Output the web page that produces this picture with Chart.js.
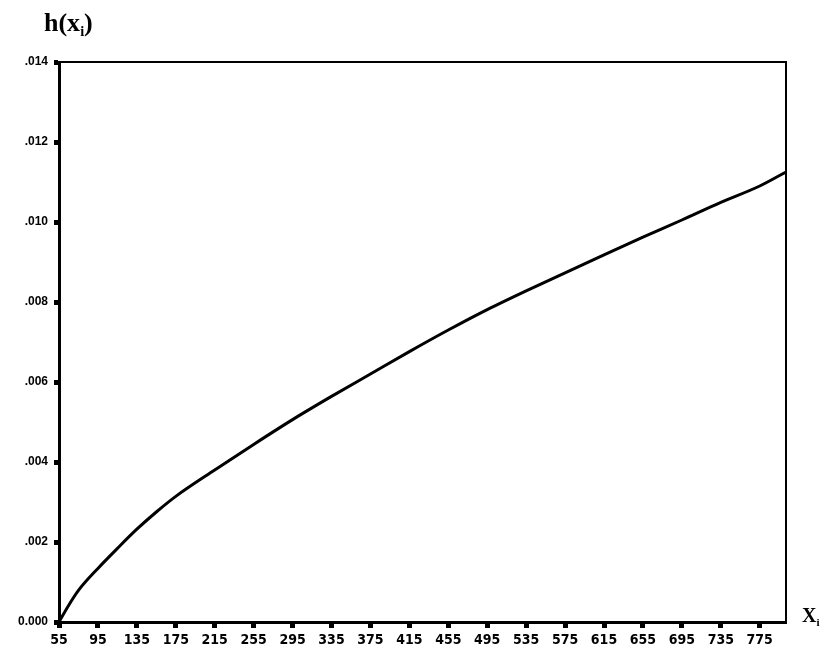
<!DOCTYPE html>
<html>
<head>
<meta charset="utf-8">
<script src="https://cdn.jsdelivr.net/npm/chart.js@4.4.1/dist/chart.umd.min.js"></script>
<style>
  html, body { margin: 0; padding: 0; background: #fff; }
  #wrap { position: relative; width: 822px; height: 655px; }
  canvas { position: absolute; left: 0; top: 0; }
  .lbl { position: absolute; font-family: "Liberation Serif", "DejaVu Serif", serif; font-weight: bold; color: #000; line-height: 1; }
  .lbl sub { font-size: 55%; vertical-align: -0.35em; }
</style>
</head>
<body>
<div id="wrap">
  <canvas id="c" width="822" height="655"></canvas>
  <div class="lbl" style="left:44px; top:10px; font-size:26px;">h(x<sub>i</sub>)</div>
  <div class="lbl" style="left:802px; top:605px; font-size:20px;">X<sub>i</sub></div>
</div>
<script>
// ---- data ----
const xValues = [55, 65, 75, 95, 115, 135, 155, 175, 215, 255, 295, 335, 375, 415, 455, 495, 535, 575, 615, 655, 695, 735, 775, 802];
const hValues = [0, 0.00042, 0.00079, 0.00134, 0.00184, 0.00232, 0.00275, 0.00314, 0.00380, 0.00444, 0.00506, 0.00564, 0.00620, 0.00676, 0.00730, 0.00781, 0.00828, 0.00873, 0.00918, 0.00962, 0.01005, 0.01049, 0.01090, 0.01125];
const xTicks = [55, 95, 135, 175, 215, 255, 295, 335, 375, 415, 455, 495, 535, 575, 615, 655, 695, 735, 775];
const yTicks = [0, 0.002, 0.004, 0.006, 0.008, 0.010, 0.012, 0.014];
const yTickLabels = ["0.000", ".002", ".004", ".006", ".008", ".010", ".012", ".014"];

const points = xValues.map((x, i) => ({ x: x, y: hValues[i] }));

const framePlugin = {
  id: 'frame',
  afterDraw(chart) {
    const { ctx, chartArea: a } = chart;
    ctx.save();
    ctx.strokeStyle = '#000';
    ctx.lineWidth = 2;
    ctx.beginPath();
    ctx.moveTo(a.left, a.top);
    ctx.lineTo(a.right, a.top);
    ctx.lineTo(a.right, a.bottom);
    ctx.stroke();
    ctx.restore();
  }
};

new Chart(document.getElementById('c'), {
  type: 'scatter',
  data: {
    datasets: [{
      data: points,
      showLine: true,
      borderColor: '#000',
      borderWidth: 3,
      pointRadius: 0,
      cubicInterpolationMode: 'monotone',
      fill: false
    }]
  },
  options: {
    responsive: false,
    animation: false,
    devicePixelRatio: 1,
    layout: { padding: { top: 62, right: 36, left: 0, bottom: 0 } },
    plugins: { legend: { display: false }, tooltip: { enabled: false } },
    scales: {
      x: {
        type: 'linear',
        min: 55,
        max: 802,
        afterBuildTicks(scale) { scale.ticks = xTicks.map(v => ({ value: v })); },
        afterFit(scale) { scale.height = 33; },
        border: { display: true, color: '#000', width: 3 },
        grid: { drawOnChartArea: false, display: true, color: '#000', tickColor: '#000', tickWidth: 5, tickLength: 6 },
        ticks: {
          color: '#000',
          padding: 4,
          maxRotation: 0,
          autoSkip: false,
          font: { family: '"DejaVu Sans Condensed", "Liberation Sans", Arial, sans-serif', weight: 'bold', size: 14 },
          callback: (v) => String(v)
        }
      },
      y: {
        type: 'linear',
        min: 0,
        max: 0.014,
        afterBuildTicks(scale) { scale.ticks = yTicks.map(v => ({ value: v })); },
        afterFit(scale) { scale.width = 59; },
        border: { display: true, color: '#000', width: 3 },
        grid: { drawOnChartArea: false, display: true, color: '#000', tickColor: '#000', tickWidth: 5, tickLength: 5 },
        ticks: {
          color: '#000',
          padding: 6,
          autoSkip: false,
          font: { family: '"Liberation Sans", Arial, sans-serif', weight: 'bold', size: 12 },
          callback: (v) => {
            const i = yTicks.findIndex(t => Math.abs(t - v) < 1e-9);
            return i >= 0 ? yTickLabels[i] : '';
          }
        }
      }
    }
  },
  plugins: [framePlugin]
});
</script>
</body>
</html>
